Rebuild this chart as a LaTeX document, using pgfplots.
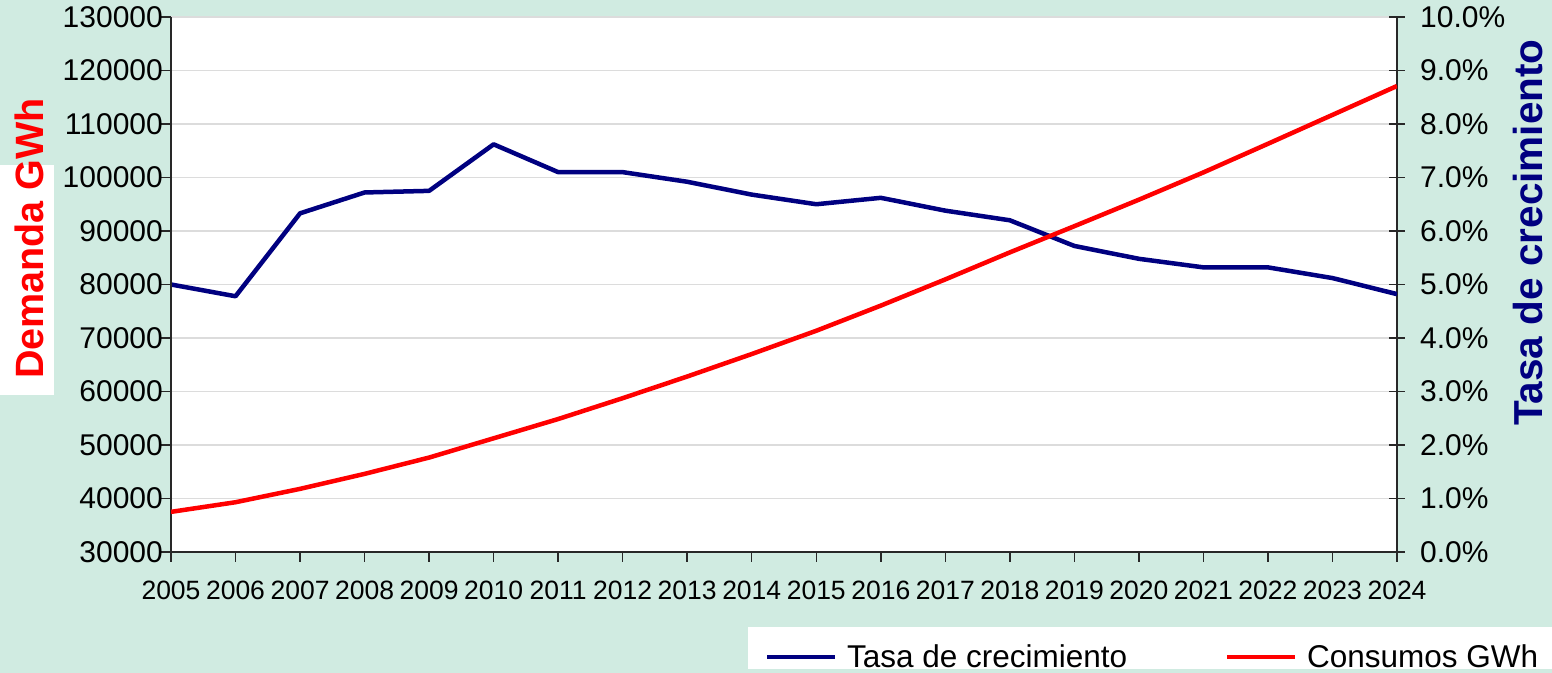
\documentclass[border=0pt]{standalone}
\usepackage{pgfplots}
\usepackage{pgfplotstable}
\pgfplotsset{compat=1.18}
\usepackage{fontspec}
\setmainfont{Liberation Sans}
\definecolor{bggreen}{RGB}{208,235,225}
\definecolor{navyline}{RGB}{0,0,128}
\definecolor{gridgray}{RGB}{220,220,220}
\definecolor{axisgray}{RGB}{40,40,40}
\pgfplotstableread{
year cons tasa
2005 37500 5.00
2006 39300 4.78
2007 41800 6.33
2008 44600 6.72
2009 47650 6.75
2010 51250 7.62
2011 54850 7.10
2012 58750 7.10
2013 62800 6.92
2014 67000 6.68
2015 71350 6.50
2016 76050 6.62
2017 80950 6.38
2018 86000 6.20
2019 90900 5.72
2020 95850 5.48
2021 100950 5.32
2022 106300 5.32
2023 111700 5.12
2024 117100 4.82
}\datatable
\begin{document}
\begin{tikzpicture}[x=1bp,y=1bp]
\fill[bggreen] (0,0) rectangle (1552,673);
\useasboundingbox (0,0) rectangle (1552,673);
\fill[white] (0,278) rectangle (54,508);
\fill[white] (748,4) rectangle (1552,46);
% right-scale axis (drawn first: background, grid, navy line)
\begin{axis}[
  at={(171bp,121bp)}, anchor=south west,
  scale only axis, width=1226bp, height=535bp,
  xmin=2005, xmax=2024, ymin=0, ymax=10,
  axis background/.style={fill=white},
  hide x axis,
  axis y line*=right,
  ytick={0,1,...,10},
  ymajorgrids, grid style={gridgray, line width=1.5bp},
  tick align=center, major tick length=16bp,
  every tick/.style={axisgray, line width=1.5bp},
  axis line style={axisgray, line width=1.5bp},
  /pgf/number format/assume math mode=true,
  yticklabel={\pgfmathprintnumber[fixed,fixed zerofill,precision=1]{\tick}\%},
  yticklabel style={font=\fontsize{30bp}{34bp}\selectfont, anchor=west, inner sep=0pt, xshift=15bp},
  ylabel={Tasa de crecimiento},
  ylabel style={at={(rel axis cs:1.1183,0.597)}, anchor=base, font=\fontsize{40.5bp}{44bp}\selectfont\bfseries, text=navyline},
]
\addplot[navyline, line width=4.5bp, line join=round] table[x=year,y=tasa]{\datatable};
\end{axis}
% left-scale axis (red line, x axis, legend)
\begin{axis}[
  at={(171bp,121bp)}, anchor=south west,
  scale only axis, width=1226bp, height=535bp,
  xmin=2005, xmax=2024, ymin=30000, ymax=130000,
  axis x line*=bottom, axis y line*=left,
  xtick={2005,2006,...,2024}, ytick={30000,40000,...,130000},
  scaled y ticks=false, scaled x ticks=false,
  tick align=outside, major tick length=10bp,
  every tick/.style={axisgray, line width=1.5bp},
  axis line style={axisgray, line width=1.5bp, -},
  /pgf/number format/assume math mode=true,
  xticklabel={\pgfmathprintnumber[fixed,precision=0,1000 sep={}]{\tick}},
  yticklabel={\pgfmathprintnumber[fixed,precision=0,1000 sep={}]{\tick}},
  xticklabel style={font=\fontsize{26.5bp}{30bp}\selectfont, anchor=north, inner sep=0pt, yshift=-19bp},
  yticklabel style={font=\fontsize{30bp}{34bp}\selectfont, anchor=east, inner sep=0pt, xshift=2bp},
  ylabel={Demanda GWh},
  ylabel style={at={(rel axis cs:-0.1044,0.586)}, anchor=base, font=\fontsize{39.5bp}{44bp}\selectfont\bfseries, text=red},
  legend columns=2,
  legend style={at={(rel axis cs:0.4706,-0.2187)}, anchor=south west, draw=none, fill=none,
    inner xsep=17bp, inner ysep=0pt, column sep=10bp,
    font=\fontsize{31.5bp}{34bp}\selectfont, nodes={inner sep=0pt}},
  legend image code/.code={\draw[#1, line width=4bp] (0bp,0bp) -- (68bp,0bp);},
]
\addlegendimage{navyline}
\addlegendentry{\makebox[368bp][l]{Tasa de crecimiento}}
\addplot[red, line width=4.5bp, line join=round] table[x=year,y=cons]{\datatable};
\addlegendentry{Consumos GWh}
\end{axis}
\end{tikzpicture}
\end{document}
